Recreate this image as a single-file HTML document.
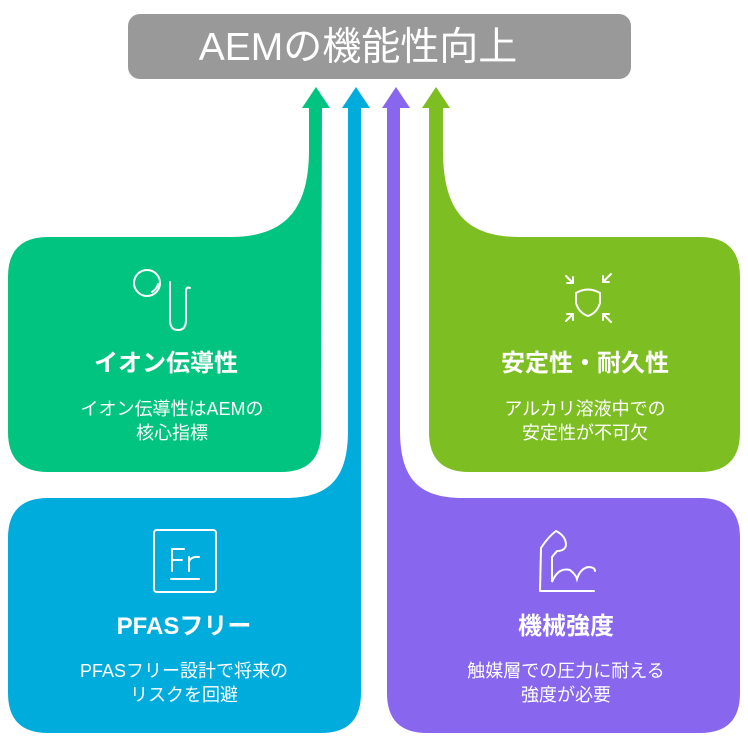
<!DOCTYPE html>
<html><head><meta charset="utf-8"><style>
html,body{margin:0;padding:0;background:#fff;width:748px;height:742px;overflow:hidden}
svg{display:block}
text{font-family:"Liberation Sans","Noto Sans CJK JP",sans-serif;fill:#fff;text-anchor:middle}
.t{font-size:24px;font-weight:bold}
.d{font-size:18px}
</style></head><body>
<svg width="748" height="742" viewBox="0 0 748 742">
<rect x="128" y="14" width="503" height="65" rx="12" fill="#999999"/>
<text x="358" y="60" style="font-size:39px">AEMの機能性向上</text>

<path d="M309 106 L309 150 C309 210 285 237 230 237 L48 237 Q8 237 8 277 L8 432 Q8 472 48 472 L281 472 Q321 472 321 432 L322 106 Z" fill="#00C47F"/>
<polygon points="302,108 316,87 330,108" fill="#00C47F"/>
<path d="M348 106 L348 430 C348 478 330 498 285 498 L48 498 Q8 498 8 538 L8 693 Q8 733 48 733 L321 733 Q361 733 361 693 L361 106 Z" fill="#00ACDC"/>
<polygon points="342,108 356,87 370,108" fill="#00ACDC"/>
<path d="M400 106 L400 430 C400 478 418 498 463 498 L700 498 Q740 498 740 538 L740 693 Q740 733 700 733 L427 733 Q387 733 387 693 L387 106 Z" fill="#8866EE"/>
<polygon points="382,108 396,87 410,108" fill="#8866EE"/>
<path d="M443 106 L443 150 C443 210 465 237 520 237 L700 237 Q740 237 740 277 L740 432 Q740 472 700 472 L469 472 Q429 472 429 432 L429 106 Z" fill="#7DBE22"/>
<polygon points="422,108 436,87 450,108" fill="#7DBE22"/>

<g fill="none" stroke="#fff" stroke-width="2" stroke-linecap="round">
<circle cx="147" cy="283" r="13"/>
<path d="M152 292 Q157 289 158 284"/>
<path d="M170 282 L170 320 Q170 330 178 330 Q186 330 186 320 L186 292 Q186 286 190 288"/>
<path d="M566 276 L573 283 M573 277 L573 283 L567 283"/>
<path d="M611 274 L603 282 M603 276 L603 282 L609 282"/>
<path d="M566 321 L573 314 M567 314 L573 314 L573 320"/>
<path d="M611 322 L603 314 M603 320 L603 314 L609 314"/>
<path d="M576 293 Q588 286 600 293 L600 303 Q597 313 588 316 Q579 313 576 303 Z"/>
<rect x="154" y="530" width="62" height="62" rx="3"/>
<path d="M172 571 L172 549 L184 549 M172 560 L182 560 M189 571 L189 557 M189 561 Q192 556 199 557"/>
<path d="M171 579 L199 579"/>
<path d="M540 591 L541 548 Q548 537 556 531 Q566 536 566 545 Q565 551 557 551 L552 557 L552 582 Q558 567 570 570 Q576 575 577 579 Q580 569 588 567 Q595 567 595 571 M540 591 L594 591"/>
</g>

<text class="t" x="166" y="371">イオン伝導性</text>
<text class="d" x="172" y="415">イオン伝導性はAEMの</text>
<text class="d" x="172" y="439">核心指標</text>

<text class="t" x="585" y="371">安定性・耐久性</text>
<text class="d" x="585" y="415">アルカリ溶液中での</text>
<text class="d" x="585" y="439">安定性が不可欠</text>

<text class="t" x="184" y="634">PFASフリー</text>
<text class="d" x="184" y="677">PFASフリー設計で将来の</text>
<text class="d" x="184" y="701">リスクを回避</text>

<text class="t" x="566" y="634">機械強度</text>
<text class="d" x="566" y="677">触媒層での圧力に耐える</text>
<text class="d" x="566" y="701">強度が必要</text>
</svg>
</body></html>
